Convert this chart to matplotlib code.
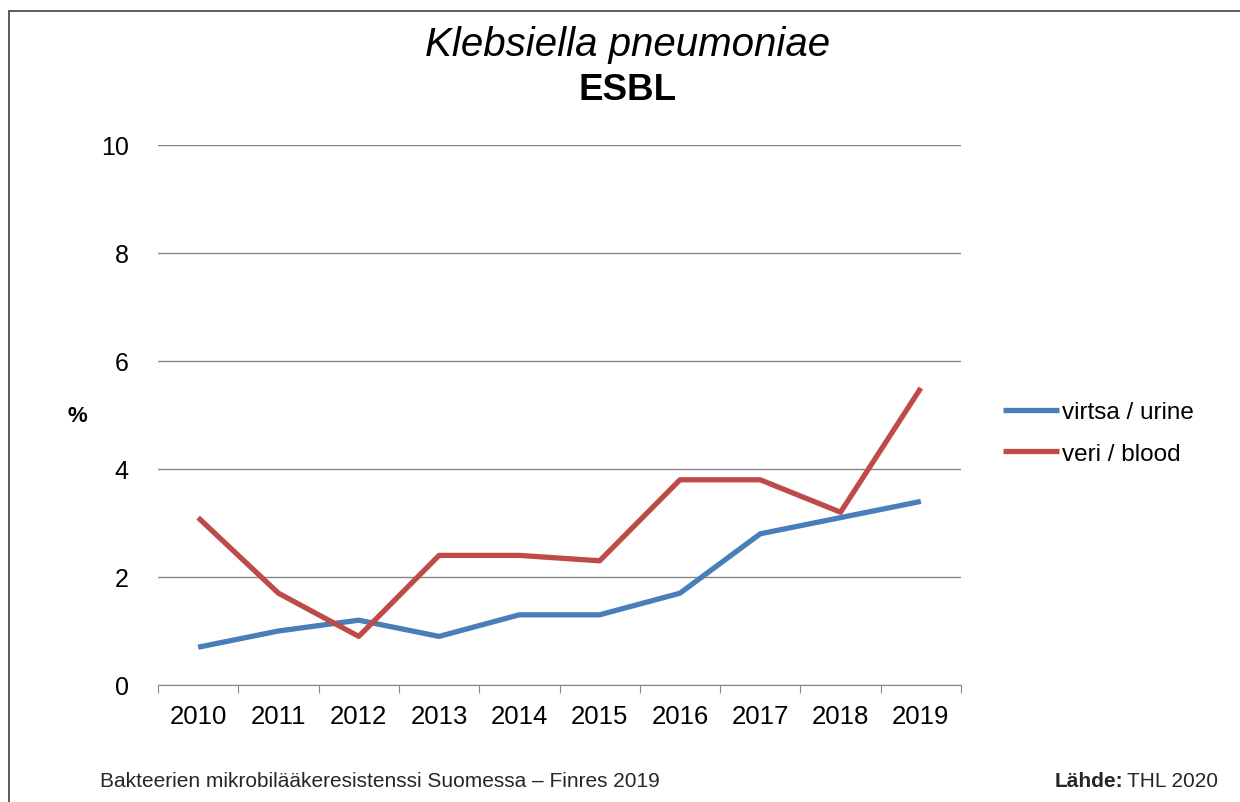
import matplotlib
matplotlib.use("Agg")
import matplotlib.pyplot as plt
from matplotlib.patches import Rectangle

plt.rcParams["font.family"] = ["Liberation Sans", "DejaVu Sans"]

years = ["2010", "2011", "2012", "2013", "2014", "2015", "2016", "2017", "2018", "2019"]
urine = [0.7, 1.0, 1.2, 0.9, 1.3, 1.3, 1.7, 2.8, 3.1, 3.4]
blood = [3.1, 1.7, 0.9, 2.4, 2.4, 2.3, 3.8, 3.8, 3.2, 5.5]
labels = ["virtsa / urine", "veri / blood"]
colors = ["#4A7EBB", "#BE4B48"]


def main():
    fig = plt.figure(figsize=(12.4, 8.03), dpi=100)
    fig.patches.append(Rectangle((9 / 1240, -0.05), 1.2, 1.05 - 12 / 803,
                                 transform=fig.transFigure, fill=False,
                                 edgecolor="#404040", linewidth=1.2))
    ax = fig.add_axes([158 / 1240, 1 - 686 / 803, (961 - 158) / 1240, (686 - 146) / 803])

    x = [i + 0.5 for i in range(len(years))]
    for series, label, color in zip([urine, blood], labels, colors):
        ax.plot(x, series, color=color, linewidth=3.8, label=label,
                solid_capstyle="butt", solid_joinstyle="round")

    ax.set_xlim(0, len(years))
    ax.set_ylim(0, 10)
    ax.set_yticks(range(0, 11, 2))
    ax.yaxis.grid(True, color="#868686", linewidth=1)
    ax.set_axisbelow(True)
    ax.tick_params(axis="y", length=0, labelsize=18, pad=21)
    ax.set_xticks(range(len(years) + 1))
    ax.set_xticklabels([])
    ax.set_xticks(x, minor=True)
    ax.set_xticklabels(years, minor=True)
    ax.tick_params(axis="x", which="major", length=6, color="#868686", direction="out")
    ax.tick_params(axis="x", which="minor", length=0, labelsize=18.5, pad=14)
    for side in ["left", "right", "top"]:
        ax.spines[side].set_visible(False)
    ax.spines["bottom"].set_color("#868686")

    fig.text(77 / 1240, 1 - 417 / 803, "%", fontsize=16, fontweight="bold",
             ha="center", va="center")
    fig.text(628 / 1240, 1 - 45 / 803, "Klebsiella pneumoniae", fontsize=29,
             style="italic", ha="center", va="center")
    fig.text(628 / 1240, 1 - 91 / 803, "ESBL", fontsize=26.5, fontweight="bold",
             ha="center", va="center")

    fig.legend(loc="center left", bbox_to_anchor=(981 / 1240, 1 - 434 / 803),
               frameon=False, fontsize=17.5, handlelength=2.3, handletextpad=0.15,
               labelspacing=0.8)

    fig.text(100 / 1240, 1 - 782 / 803,
             "Bakteerien mikrobilääkeresistenssi Suomessa – Finres 2019",
             fontsize=15, color="#262626", ha="left", va="center")
    fig.text(1218 / 1240, 1 - 782 / 803, "THL 2020", fontsize=15,
             color="#262626", ha="right", va="center")
    fig.text(1123 / 1240, 1 - 782 / 803, "Lähde:", fontsize=15,
             fontweight="bold", color="#262626", ha="right", va="center")

    fig.savefig("out.png", dpi=100)


if __name__ == "__main__":
    main()
